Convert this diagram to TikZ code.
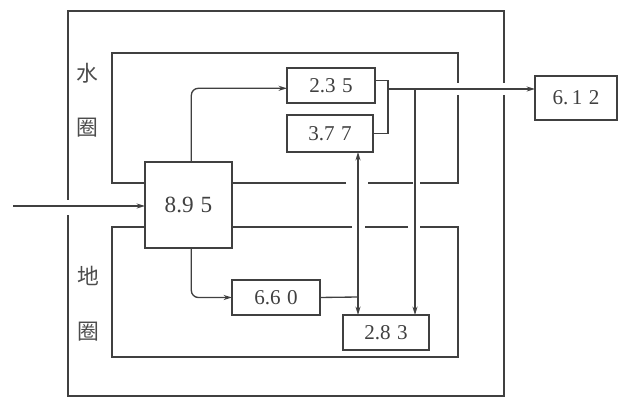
\documentclass[tikz,border=0pt]{standalone}
\usepackage{fontspec}
\setmainfont{Liberation Serif}
\newfontfamily\cjk{Noto Sans CJK SC}
\usepackage{tikz}
\usetikzlibrary{arrows.meta, positioning, calc}

\newcommand{\dg}{\hspace{0.3em}}

\begin{document}
\begin{tikzpicture}[x=0.025cm, y=-0.025cm,
        line width=0.95pt, draw=black!75,
        box/.style={draw, line width=1.15pt, inner sep=0pt, outer sep=0pt,
                font=\fontsize{15}{17}\selectfont, text=black!75},
        arr/.style={draw, -{Stealth[length=6pt,width=3.6pt]}},
        lbl/.style={font=\cjk\fontsize{15.5}{17}\selectfont, text=black!70}
        ]
        \useasboundingbox (0,0) rectangle (619,398);

        \node[box, minimum width=2.175cm, minimum height=2.15cm,
              font=\fontsize{16.5}{18}\selectfont] (n895) at (188.5,205)  {8.9\dg5};
        \node[box, minimum width=2.2cm,   minimum height=0.875cm] (n235) at (331,85.5)  {2.3\dg5};
        \node[box, minimum width=2.15cm,  minimum height=0.925cm] (n377) at (330,133.5) {3.7\dg7};
        \node[box, minimum width=2.05cm,  minimum height=1.1cm]   (n612) at (576,98)    {6.\,1\dg2};
        \node[box, minimum width=2.2cm,   minimum height=0.875cm] (n660) at (276,297.5) {6.6\dg0};
        \node[box, minimum width=2.15cm,  minimum height=0.875cm] (n283) at (386,332.5) {2.8\dg3};

        \node[lbl] (w1) at (87,73)  {水};
        \node[lbl] (w2) at (87,128) {圈};
        \node[lbl] (e1) at (88,276) {地};
        \node[lbl] (e2) at (88,332) {圈};

        % outer frame
        \draw (68,200) -- (68,11) -- (504,11) -- (504,83);
        \draw (504,95) -- (504,396) -- (68,396) -- (68,215);

        % hydrosphere
        \draw (n895.west |- 0,183) -- (112,183) -- (112,53) -- (458,53) -- (458,83);
        \draw (458,95) -- (458,183) -- (420,183);
        \draw (413,183) -- (368,183);
        \draw (346,183) -- (n895.east |- 0,183);

        % lithosphere
        \draw (n895.west |- 0,227) -- (112,227) -- (112,357) -- (458,357) -- (458,227) -- (420,227);
        \draw (408,227) -- (365,227);
        \draw (352,227) -- (n895.east |- 0,227);

        % flows
        \coordinate (in) at (13,206);
        \coordinate (br) at (388,89);
        \coordinate (tap) at (415,89);
        \coordinate (jn) at (358,297);

        \draw[arr] (in) -- (in -| n895.west);
        \draw[arr, rounded corners=5pt] ([xshift=2pt]n895.north) |- ([yshift=-2pt]n235.west);
        \draw[arr, rounded corners=5pt] ([xshift=2pt]n895.south) |- (n660.west);
        \draw ([yshift=3.5pt]n235.east) -| (br) |- (n377.east);
        \draw[arr] (br) -- (br -| n612.west);
        \draw[arr] (tap) -- (tap |- n283.north);
        \draw (n660.east) -- (jn);
        \draw[arr] (jn) -- (jn |- n283.north);
        \draw[arr] (jn) -- (jn |- n377.south);
\end{tikzpicture}
\end{document}
